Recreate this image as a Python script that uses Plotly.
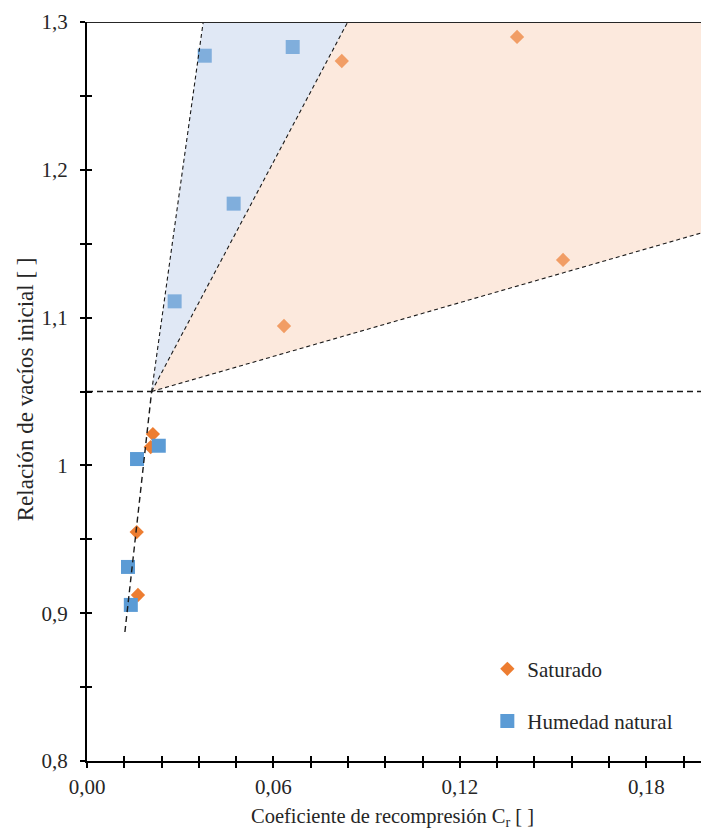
import plotly.graph_objects as go

# ---- data ----
sat_x = [0.0212, 0.0205, 0.0160, 0.0164, 0.0634, 0.0820, 0.1384, 0.1532]
sat_y = [1.0212, 1.0124, 0.9549, 0.9123, 1.0943, 1.2736, 1.2899, 1.1390]

hum_x = [0.0161, 0.0231, 0.0132, 0.0141, 0.0282, 0.0472, 0.0379, 0.0662]
hum_y = [1.0043, 1.0133, 0.9313, 0.9056, 1.1110, 1.1771, 1.2772, 1.2831]

# envelope geometry
vertex = (0.0208, 1.05)
low_line_start = (0.0122, 0.8873)
blue_left_top = (0.0374, 1.30)
split_top = (0.0839, 1.30)
orange_right = (0.1976, 1.1572)
corner_tr = (0.1976, 1.30)
threshold_y = 1.05

x_range = [0, 0.1976]
y_range = [0.8, 1.3]
x_ticks = [0.0, 0.06, 0.12, 0.18]
x_ticktext = ["0,00", "0,06", "0,12", "0,18"]
y_ticks = [0.8, 0.9, 1.0, 1.1, 1.2, 1.3]
y_ticktext = ["0,8", "0,9", "1", "1,1", "1,2", "1,3"]

FONT = "Liberation Serif"
TXT = "#262626"

fig = go.Figure()

# markers first (regions overlay them semi-transparently)
fig.add_trace(go.Scatter(x=sat_x, y=sat_y, mode="markers", name="Saturado",
                         legendgroup="a",
                         marker=dict(symbol="diamond", size=11, color="#ED7D31",
                                     line=dict(width=0))))
fig.add_trace(go.Scatter(x=hum_x, y=hum_y, mode="markers", name="Humedad natural",
                         legendgroup="b",
                         marker=dict(symbol="square", size=14, color="#5B9BD5",
                                     line=dict(width=0))))

# shaded regions
fig.add_trace(go.Scatter(x=[vertex[0], blue_left_top[0], split_top[0], vertex[0]],
                         y=[vertex[1], blue_left_top[1], split_top[1], vertex[1]],
                         fill="toself", mode="none", fillcolor="rgba(180,199,231,0.42)",
                         showlegend=False, hoverinfo="skip"))
fig.add_trace(go.Scatter(x=[vertex[0], split_top[0], corner_tr[0], orange_right[0], vertex[0]],
                         y=[vertex[1], split_top[1], corner_tr[1], orange_right[1], vertex[1]],
                         fill="toself", mode="none", fillcolor="rgba(248,203,173,0.42)",
                         showlegend=False, hoverinfo="skip"))

# dashed lines
thick = dict(color="#1a1a1a", width=1.4, dash="6px,4px")
thin = dict(color="#1a1a1a", width=1.1, dash="4px,3px")
fig.add_trace(go.Scatter(x=[x_range[0], x_range[1]], y=[threshold_y, threshold_y], mode="lines",
                         line=thick, showlegend=False, hoverinfo="skip"))
fig.add_trace(go.Scatter(x=[low_line_start[0], vertex[0]], y=[low_line_start[1], vertex[1]],
                         mode="lines", line=thick, showlegend=False, hoverinfo="skip"))
fig.add_trace(go.Scatter(x=[vertex[0], blue_left_top[0]], y=[vertex[1], blue_left_top[1]],
                         mode="lines", line=thin, showlegend=False, hoverinfo="skip"))
fig.add_trace(go.Scatter(x=[vertex[0], split_top[0]], y=[vertex[1], split_top[1]],
                         mode="lines", line=thin, showlegend=False, hoverinfo="skip"))
fig.add_trace(go.Scatter(x=[vertex[0], orange_right[0]], y=[vertex[1], orange_right[1]],
                         mode="lines", line=thin, showlegend=False, hoverinfo="skip"))

# top border line
fig.add_shape(type="line", xref="x", yref="y", x0=x_range[0], x1=x_range[1],
              y0=y_range[1], y1=y_range[1], line=dict(color="#262626", width=2))

tickfont = dict(family=FONT, size=21, color=TXT)
fig.update_layout(
    width=701, height=830,
    margin=dict(l=87, r=0, t=22, b=69),
    paper_bgcolor="white", plot_bgcolor="white",
    font=dict(family=FONT, size=20, color=TXT),
    showlegend=True,
    legend=dict(x=0.652, y=0.152, xanchor="left", yanchor="top",
                font=dict(family=FONT, size=21, color=TXT),
                tracegroupgap=22, itemwidth=30, bgcolor="rgba(0,0,0,0)"),
    xaxis=dict(range=x_range, tickvals=x_ticks, ticktext=x_ticktext, tickfont=tickfont,
               showgrid=False, zeroline=False, showline=True, linecolor="black", linewidth=2,
               ticks="outside", ticklen=5, tickwidth=1.5, tickcolor="black",
               ticklabelstandoff=1,
               minor=dict(dtick=0.012, tick0=0, ticks="outside", ticklen=5, tickwidth=1.5,
                          tickcolor="black", showgrid=False)),
    yaxis=dict(range=y_range, tickvals=y_ticks, ticktext=y_ticktext, tickfont=tickfont,
               showgrid=False, zeroline=False, showline=True, linecolor="black", linewidth=2,
               ticks="outside", ticklen=5, tickwidth=1.5, tickcolor="black",
               ticklabelstandoff=8,
               minor=dict(dtick=0.05, tick0=0.8, ticks="outside", ticklen=5, tickwidth=1.5,
                          tickcolor="black", showgrid=False)),
    xaxis2=dict(range=x_range, overlaying="x", side="bottom", anchor="y", showticklabels=False,
                showgrid=False, zeroline=False, tickvals=x_ticks,
                ticks="inside", ticklen=5, tickwidth=1.5, tickcolor="black",
                minor=dict(dtick=0.012, tick0=0, ticks="inside", ticklen=5, tickwidth=1.5,
                           tickcolor="black", showgrid=False)),
    yaxis2=dict(range=y_range, overlaying="y", side="left", anchor="x", showticklabels=False,
                showgrid=False, zeroline=False, tickvals=y_ticks,
                ticks="inside", ticklen=5, tickwidth=1.5, tickcolor="black",
                minor=dict(dtick=0.05, tick0=0.8, ticks="inside", ticklen=5, tickwidth=1.5,
                           tickcolor="black", showgrid=False)),
)

# dummy trace to activate secondary axes
fig.add_trace(go.Scatter(x=[None], y=[None], xaxis="x2", yaxis="y2", showlegend=False,
                         hoverinfo="skip"))

fig.add_annotation(text="Coeficiente de recompresión C<sub>r</sub> [ ]", xref="paper", yref="paper",
                   x=0.497, y=-0.076, xanchor="center", yanchor="middle", showarrow=False,
                   font=dict(family=FONT, size=20.5, color=TXT))
fig.add_annotation(text="Relación de vacíos inicial [ ]", xref="paper", yref="paper",
                   x=-0.101, y=0.503, xanchor="center", yanchor="middle", showarrow=False,
                   textangle=-90, font=dict(family=FONT, size=23, color=TXT))

fig.write_html("out.html")
